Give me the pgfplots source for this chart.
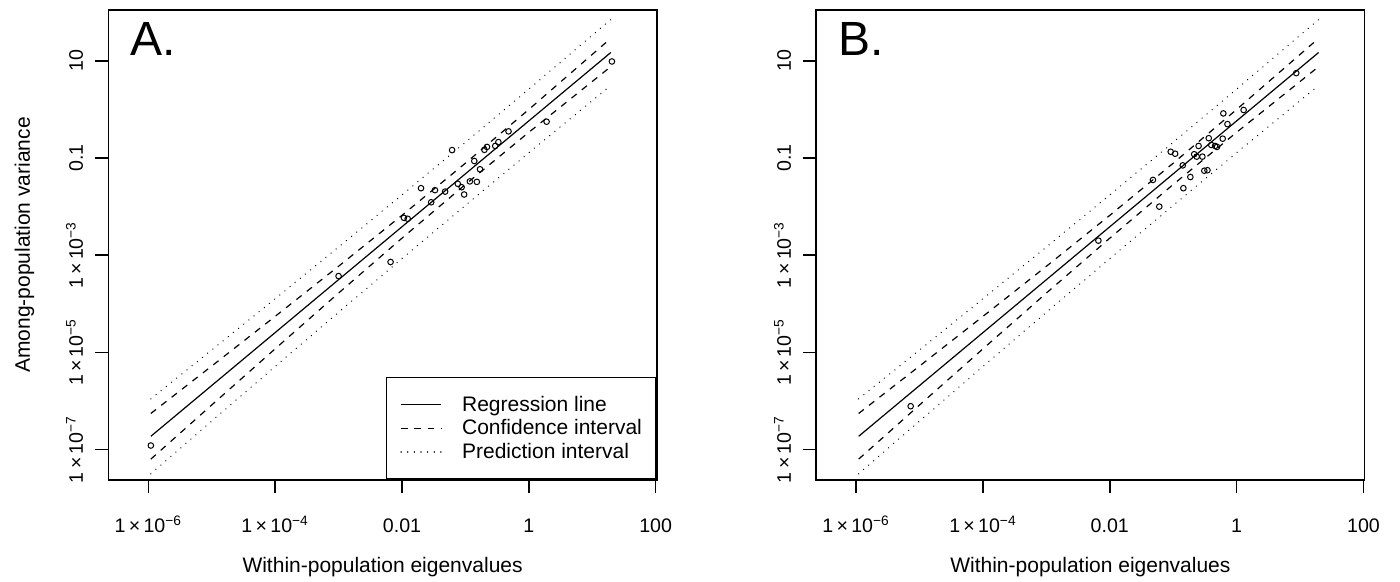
\documentclass[border=0pt]{standalone}
\usepackage{pgfplots}
\usepackage{pgfplotstable}
\pgfplotsset{compat=1.18}
\usepackage{fontspec}
\setmainfont{Liberation Sans}

\pgfplotstableread{
x y
1.096e-6 1.202e-7
1.0e-3 3.715e-4
6.607e-3 7.244e-4
1.072e-2 5.888e-3
1.230e-2 5.623e-3
1.995e-2 2.399e-2
2.884e-2 1.230e-2
3.311e-2 2.188e-2
4.786e-2 2.042e-2
6.166e-2 1.462e-1
7.586e-2 2.951e-2
8.710e-2 2.512e-2
9.550e-2 1.778e-2
1.175e-1 3.311e-2
1.514e-1 3.236e-2
1.380e-1 8.710e-2
1.698e-1 5.888e-2
1.995e-1 1.479e-1
2.188e-1 1.698e-1
2.951e-1 1.778e-1
3.311e-1 2.138e-1
4.786e-1 3.548e-1
1.905 5.623e-1
20.42 9.772
}\pointsA

\pgfplotstableread{
x y
7.244e-6 7.762e-7
6.607e-3 1.995e-3
6.026e-2 1.0e-2
4.786e-2 3.548e-2
1.445e-1 2.399e-2
1.413e-1 7.079e-2
1.862e-1 4.074e-2
9.120e-2 1.349e-1
1.072e-1 1.230e-1
2.138e-1 1.202e-1
2.344e-1 1.072e-1
2.884e-1 1.072e-1
2.512e-1 1.778e-1
3.090e-1 5.495e-2
3.467e-1 5.623e-2
3.631e-1 2.570e-1
3.981e-1 1.862e-1
4.571e-1 1.778e-1
4.898e-1 1.698e-1
6.026e-1 2.512e-1
6.166e-1 8.318e-1
7.161e-1 5.012e-1
1.288 9.772e-1
8.710 5.623
}\pointsB

\pgfplotstableread{
x s ciu cil piu pil
1.096e-6 1.862e-7 5.495e-7 6.310e-8 1.102e-6 3.148e-8
1e-5 2.070e-6 5.212e-6 8.222e-7 1.117e-5 3.837e-7
1e-4 2.547e-5 5.495e-5 1.180e-5 1.268e-4 5.117e-6
1e-3 3.133e-4 5.916e-4 1.660e-4 1.472e-3 6.668e-5
1e-2 3.855e-3 6.622e-3 2.244e-3 1.746e-2 8.511e-4
0.1 4.742e-2 7.852e-2 2.864e-2 2.118e-1 1.062e-2
1 5.834e-1 1.002 3.396e-1 2.642 1.288e-1
19.63 14.96 29.31 7.656 71.29 3.141
}\linesdata

\begin{document}
\fontsize{10.5}{12.6}\selectfont
\begin{tikzpicture}[font=\fontsize{10.5}{12.6}\selectfont]
\path[use as bounding box] (0,0) rectangle (700pt,291pt);
\begin{loglogaxis}[
    at={(54.25pt,51pt)}, anchor=south west,
    scale only axis, width=274.1pt, height=235pt,
    xmin=2.355e-7, xmax=103.8, ymin=2.344e-8, ymax=112.2,
    axis line style={line width=0.9pt},
    tick align=outside, major tick length=6.5pt,
    tick style={line width=0.8pt, black},
    xtick pos=left, ytick pos=left,
    minor xtick={}, minor ytick={},
    xtick={1e-6,1e-4,1e-2,1,100},
    xticklabels={1\,×\,10\textsuperscript{−6}, 1\,×\,10\textsuperscript{−4}, 0.01, 1, 100},
    ytick={1e-7,1e-5,1e-3,0.1,10},
    yticklabels={1\,×\,10\textsuperscript{−7}, 1\,×\,10\textsuperscript{−5}, 1\,×\,10\textsuperscript{−3}, 0.1, 10},
    xticklabel style={anchor=base, inner sep=0pt, font=\fontsize{9.8}{11}\selectfont},
    yticklabel style={rotate=90, anchor=base, inner sep=0pt, font=\fontsize{9.8}{11}\selectfont},
    xticklabel shift=19.8pt, yticklabel shift=6.25pt,
    xlabel={Within-population eigenvalues},
    xlabel style={at={(axis description cs:0.5,0)}, anchor=base, yshift=-46.3pt, inner sep=0pt},
    ylabel={Among-population variance},
    ylabel style={at={(axis description cs:0,0.5)}, anchor=base, yshift=39.25pt, inner sep=0pt},
    legend style={at={(1,0)}, anchor=south east, draw=black, line width=0.8pt,
      inner xsep=7pt, inner ysep=7.8pt, column sep=10pt, row sep=0pt,
      nodes={inner sep=0pt, text height=9pt, text depth=2.75pt}},
    legend image post style={xscale=1.18},
    legend cell align=left,
  ]
  \addplot[only marks, mark=o, mark size=1.4pt, black, mark options={line width=0.5pt, solid}, forget plot] table[x=x,y=y] {\pointsA};
  \addplot[line width=0.6pt, black, solid] table[x=x,y=s] {\linesdata};
  \addlegendentry{Regression line}
  \addplot[line width=0.6pt, black, dash pattern=on 3.3pt off 3.3pt] table[x=x,y=ciu] {\linesdata};
  \addlegendentry{Confidence interval}
  \addplot[line width=0.7pt, black, line cap=round, dash pattern=on 0.01pt off 3.3pt] table[x=x,y=piu] {\linesdata};
  \addlegendentry{Prediction interval}
  \addplot[line width=0.6pt, black, dash pattern=on 3.3pt off 3.3pt, forget plot] table[x=x,y=cil] {\linesdata};
  \addplot[line width=0.7pt, black, line cap=round, dash pattern=on 0.01pt off 3.3pt, forget plot] table[x=x,y=pil] {\linesdata};
  \node[anchor=north west, inner sep=0pt, font=\fontsize{24}{28}\selectfont] at (rel axis cs:0.039,0.9745) {A.};
\end{loglogaxis}
\begin{loglogaxis}[
    at={(408.15pt,51pt)}, anchor=south west,
    scale only axis, width=274.1pt, height=235pt,
    xmin=2.355e-7, xmax=103.8, ymin=2.344e-8, ymax=112.2,
    axis line style={line width=0.9pt},
    tick align=outside, major tick length=6.5pt,
    tick style={line width=0.8pt, black},
    xtick pos=left, ytick pos=left,
    minor xtick={}, minor ytick={},
    xtick={1e-6,1e-4,1e-2,1,100},
    xticklabels={1\,×\,10\textsuperscript{−6}, 1\,×\,10\textsuperscript{−4}, 0.01, 1, 100},
    ytick={1e-7,1e-5,1e-3,0.1,10},
    yticklabels={1\,×\,10\textsuperscript{−7}, 1\,×\,10\textsuperscript{−5}, 1\,×\,10\textsuperscript{−3}, 0.1, 10},
    xticklabel style={anchor=base, inner sep=0pt, font=\fontsize{9.8}{11}\selectfont},
    yticklabel style={rotate=90, anchor=base, inner sep=0pt, font=\fontsize{9.8}{11}\selectfont},
    xticklabel shift=19.8pt, yticklabel shift=6.25pt,
    xlabel={Within-population eigenvalues},
    xlabel style={at={(axis description cs:0.5,0)}, anchor=base, yshift=-46.3pt, inner sep=0pt},
  ]
  \addplot[only marks, mark=o, mark size=1.4pt, black, mark options={line width=0.5pt, solid}] table[x=x,y=y] {\pointsB};
  \addplot[line width=0.6pt, black, solid] table[x=x,y=s] {\linesdata};
  \addplot[line width=0.6pt, black, dash pattern=on 3.3pt off 3.3pt] table[x=x,y=ciu] {\linesdata};
  \addplot[line width=0.6pt, black, dash pattern=on 3.3pt off 3.3pt] table[x=x,y=cil] {\linesdata};
  \addplot[line width=0.7pt, black, line cap=round, dash pattern=on 0.01pt off 3.3pt] table[x=x,y=piu] {\linesdata};
  \addplot[line width=0.7pt, black, line cap=round, dash pattern=on 0.01pt off 3.3pt] table[x=x,y=pil] {\linesdata};
  \node[anchor=north west, inner sep=0pt, font=\fontsize{24}{28}\selectfont] at (rel axis cs:0.039,0.9745) {B.};
\end{loglogaxis}
\end{tikzpicture}
\end{document}
